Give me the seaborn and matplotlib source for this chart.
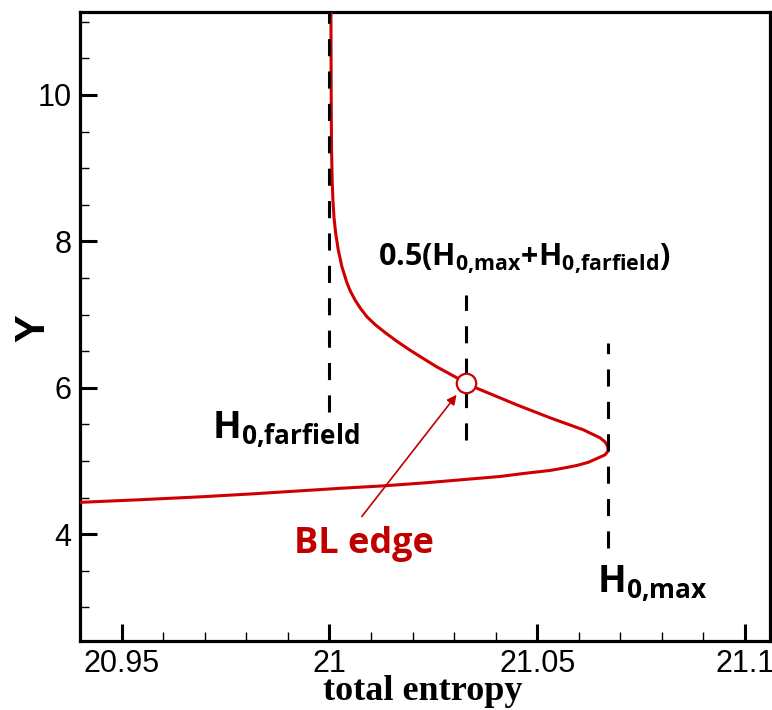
import numpy as np
import pandas as pd
import seaborn as sns
import matplotlib
matplotlib.use("Agg")
import matplotlib.pyplot as plt
from matplotlib.ticker import MultipleLocator

# Total-entropy profile across the boundary layer (x = total entropy, y = Y)
entropy = [20.9400, 20.9545, 20.9688, 20.9809, 20.9929, 21.0029, 21.0129,
           21.0229, 21.0329, 21.0411, 21.0471, 21.0531, 21.0567, 21.0596,
           21.0623, 21.0644, 21.0663, 21.0671, 21.0669, 21.0663, 21.0651,
           21.0611, 21.0531, 21.0451, 21.0354, 21.0329, 21.03022, 21.02805,
           21.02581, 21.02251, 21.01927, 21.01626, 21.01349, 21.01108, 21.00904,
           21.00747, 21.00615, 21.00507, 21.00422, 21.00302, 21.00213, 21.00150,
           21.00110, 21.00085, 21.00069, 21.00052, 21.00044, 21.00037]
y_pos = [4.434, 4.470, 4.509, 4.548, 4.591, 4.627, 4.659,
         4.700, 4.748, 4.788, 4.831, 4.870, 4.906, 4.939,
         4.981, 5.034, 5.083, 5.138, 5.206, 5.261, 5.316,
         5.425, 5.589, 5.766, 5.995, 6.067, 6.149, 6.217,
         6.286, 6.402, 6.518, 6.634, 6.750, 6.859, 6.969,
         7.085, 7.201, 7.317, 7.433, 7.652, 7.884, 8.116,
         8.335, 8.567, 8.800, 9.251, 9.930, 11.17]

# Boundary-layer edge marker
edge_x = [21.0329]
edge_y = [6.067]

# Reference levels: far-field, mid-point, maximum
h_farfield = 21.0
h_mid = 21.0329
h_max = 21.0671
ref_x = [h_farfield, h_mid, h_max]
ref_y0 = [5.67, 5.29, 3.81]
ref_y1 = [11.2, 7.27, 6.61]

x_ticks = [20.95, 21.0, 21.05, 21.1]
x_tick_labels = ["20.95", "21", "21.05", "21.1"]
y_ticks = [4, 6, 8, 10]
y_tick_labels = ["4", "6", "8", "10"]

RED = "#d00000"
TXT_RED = "#c00000"

sns.set_style("ticks")
plt.rcParams["font.family"] = ["Liberation Sans", "DejaVu Sans"]
plt.rcParams["mathtext.fontset"] = "custom"
plt.rcParams["mathtext.rm"] = "Open Sans"
plt.rcParams["mathtext.bf"] = "Open Sans:bold"
plt.rcParams["mathtext.it"] = "Open Sans:italic"
for key in ["text.color", "axes.labelcolor", "xtick.color", "ytick.color",
            "axes.edgecolor"]:
    plt.rcParams[key] = "black"

fig = plt.figure(figsize=(7.72, 7.10), dpi=100)
ax = fig.add_axes([0.1036, 0.0972, 0.9974 - 0.1036, 0.9838 - 0.0972])

df = pd.DataFrame({"entropy": entropy, "Y": y_pos})
sns.lineplot(data=df, x="entropy", y="Y", orient="y", sort=True,
             estimator=None, color=RED, lw=2.2, ax=ax, zorder=3)

# Dashed reference lines, drawn over the profile
for xv, y0, y1 in zip(ref_x, ref_y0, ref_y1):
    ax.plot([xv, xv], [y0, y1], color="black", lw=2.2,
            linestyle=(0, (5.6, 5.0)), zorder=4, solid_capstyle="butt")

ax.plot(edge_x, edge_y, marker="o", markersize=14, mfc="white",
        mec=RED, mew=1.6, linestyle="none", zorder=6)

ax.annotate("", xy=(21.0306, 5.903), xytext=(21.0078, 4.240),
            arrowprops=dict(arrowstyle="-|>", color=TXT_RED, lw=1.2,
                            mutation_scale=14, shrinkA=0, shrinkB=0),
            zorder=5)

ax.text(21.0083, 3.86, "BL edge", color=TXT_RED, fontsize=26,
        fontfamily="Open Sans", fontweight="bold", ha="center", va="center")
ax.text(20.9896, 5.43, r"$\mathbf{H_{0{,}farfield}}$", fontsize=27,
        ha="center", va="center")
ax.text(21.0777, 3.33, r"$\mathbf{H_{0{,}max}}$", fontsize=27,
        ha="center", va="center")
ax.text(21.0468, 7.76,
        r"$\mathbf{0.5(H_{0{,}max}{+}H_{0{,}farfield})}$",
        fontsize=22, ha="center", va="center")

ax.set_xlim(20.9400, 21.1060)
ax.set_ylim(2.54, 11.14)
ax.set_xticks(x_ticks)
ax.set_xticklabels(x_tick_labels)
ax.set_yticks(y_ticks)
ax.set_yticklabels(y_tick_labels)
ax.xaxis.set_minor_locator(MultipleLocator(0.01))
ax.yaxis.set_minor_locator(MultipleLocator(0.5))
ax.tick_params(which="major", direction="in", length=12, width=2.2,
               labelsize=22, pad=6, top=False, right=False, colors="black")
ax.tick_params(which="minor", direction="in", length=6.5, width=1.0,
               top=False, right=False, colors="black")
for s in ax.spines.values():
    s.set_linewidth(2.3)
    s.set_color("black")
    s.set_visible(True)

ax.set_xlabel("total entropy", fontfamily="Liberation Serif",
              fontweight="bold", fontsize=26)
ax.set_ylabel("Y", fontfamily="Liberation Sans", fontweight="bold",
              fontsize=30)
ax.xaxis.set_label_coords(0.497, -0.054)
ax.yaxis.set_label_coords(-0.038, 0.497)

fig.savefig("out.png", dpi=100)
